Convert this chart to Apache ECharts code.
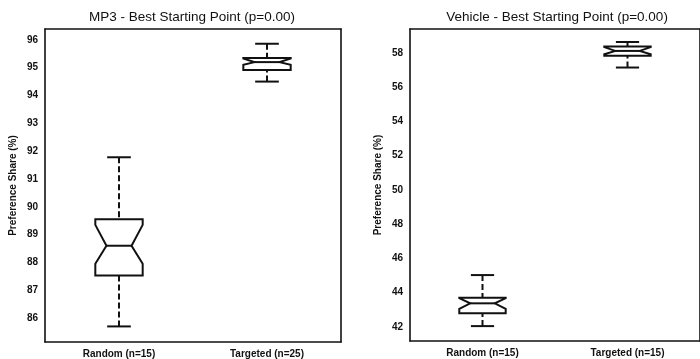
<!DOCTYPE html>
<html>
<head>
<meta charset="utf-8">
<script src="https://cdn.jsdelivr.net/npm/echarts@6/dist/echarts.min.js"></script>
<style>
  html, body { margin: 0; padding: 0; background: #ffffff; }
  #chart { width: 700px; height: 359px; }
</style>
</head>
<body>
<div id="chart"></div>
<script>
// ---- MP3 study ----
const mp3Title = 'MP3 - Best Starting Point (p=0.00)';
const mp3Categories = ['Random (n=15)', 'Targeted (n=25)'];
const mp3WhiskerLow = [85.70, 94.50];
const mp3Q1 = [87.53, 94.92];
const mp3Median = [88.60, 95.20];
const mp3Q3 = [89.55, 95.35];
const mp3WhiskerHigh = [91.78, 95.86];
const mp3NotchLow = [87.95, 95.10];
const mp3NotchHigh = [89.35, 95.33];
const mp3Ticks = [86, 87, 88, 89, 90, 91, 92, 93, 94, 95, 96];

// ---- Vehicle study ----
const vehicleTitle = 'Vehicle - Best Starting Point (p=0.00)';
const vehicleCategories = ['Random (n=15)', 'Targeted (n=15)'];
const vehicleWhiskerLow = [42.05, 57.15];
const vehicleQ1 = [42.80, 57.84];
const vehicleMedian = [43.38, 58.12];
const vehicleQ3 = [43.70, 58.38];
const vehicleWhiskerHigh = [45.03, 58.64];
const vehicleNotchLow = [43.05, 57.92];
const vehicleNotchHigh = [43.68, 58.34];
const vehicleTicks = [42, 44, 46, 48, 50, 52, 54, 56, 58];

const yName = 'Preference Share (%)';
const ink = '#111111';
const font = 'Liberation Sans, Arial, sans-serif';

function boxRows(lo, q1, med, q3, hi, nlo, nhi) {
  return lo.map((_, i) => [i, lo[i], q1[i], med[i], q3[i], hi[i], nlo[i], nhi[i]]);
}

// Notched box with dashed whiskers
function renderBox(params, api) {
  const i = api.value(0);
  const y = v => api.coord([i, v])[1];
  const cx = api.coord([i, api.value(3)])[0];
  const yWL = y(api.value(1)), yQ1 = y(api.value(2)), yMed = y(api.value(3));
  const yQ3 = y(api.value(4)), yWH = y(api.value(5));
  const yNL = y(api.value(6)), yNH = y(api.value(7));
  const band = api.size([1, 0])[0];
  const half = band * 0.16;
  const cap = band * 0.08;
  const inset = half * 0.47;
  const L = cx - half, R = cx + half;
  const outline = [
    [L, yQ1], [L, yNL], [L + inset, yMed], [L, yNH], [L, yQ3],
    [R, yQ3], [R, yNH], [R - inset, yMed], [R, yNL], [R, yQ1]
  ];
  const dashed = { stroke: ink, lineWidth: 2, lineDash: [6, 3] };
  const solid = { stroke: ink, lineWidth: 2 };
  return {
    type: 'group',
    children: [
      { type: 'line', shape: { x1: cx, y1: yWH, x2: cx, y2: yQ3 }, style: dashed },
      { type: 'line', shape: { x1: cx, y1: yWL, x2: cx, y2: yQ1 }, style: dashed },
      { type: 'line', shape: { x1: cx - cap, y1: yWH, x2: cx + cap, y2: yWH }, style: solid },
      { type: 'line', shape: { x1: cx - cap, y1: yWL, x2: cx + cap, y2: yWL }, style: solid },
      { type: 'polygon', shape: { points: outline }, style: { fill: '#ffffff', stroke: ink, lineWidth: 2, lineJoin: 'miter' } },
      { type: 'line', shape: { x1: L + inset, y1: yMed, x2: R - inset, y2: yMed }, style: solid }
    ]
  };
}

const axisLine = { show: true, lineStyle: { color: ink, width: 1.6 } };

function catAxes(gridIndex, cats) {
  return [
    {
      type: 'category', gridIndex, position: 'bottom', data: cats,
      axisLine, axisTick: { inside: true, length: 3, alignWithLabel: true, lineStyle: { color: ink } },
      axisLabel: { color: ink, fontFamily: font, fontWeight: 'bold', fontSize: 10, margin: 7 }
    },
    {
      type: 'category', gridIndex, position: 'top', data: cats,
      axisLine, axisTick: { inside: true, length: 3, alignWithLabel: true, lineStyle: { color: ink } },
      axisLabel: { show: false }
    }
  ];
}

function valAxes(gridIndex, min, max, ticks) {
  return [
    {
      type: 'value', gridIndex, position: 'left', min, max,
      axisLine, splitLine: { show: false },
      axisTick: { inside: true, length: 3, customValues: ticks, lineStyle: { color: ink } },
      axisLabel: { customValues: ticks, color: ink, fontFamily: font, fontWeight: 'bold', fontSize: 10, margin: 7 },
      name: yName, nameLocation: 'middle', nameGap: 27, nameRotate: 90,
      nameTextStyle: { color: ink, fontFamily: font, fontWeight: 'bold', fontSize: 10 }
    },
    {
      type: 'value', gridIndex, position: 'right', min, max,
      axisLine, splitLine: { show: false },
      axisTick: { inside: true, length: 3, customValues: ticks, lineStyle: { color: ink } },
      axisLabel: { show: false }
    }
  ];
}

const titleStyle = { color: ink, fontFamily: font, fontWeight: 'normal', fontSize: 13.5 };

const option = {
  backgroundColor: '#ffffff',
  animation: false,
  title: [
    { text: mp3Title, left: 192, top: 10, padding: 0, textAlign: 'center', textStyle: titleStyle },
    { text: vehicleTitle, left: 557, top: 10, padding: 0, textAlign: 'center', textStyle: titleStyle }
  ],
  grid: [
    { left: 45, top: 29, width: 296, height: 313 },
    { left: 410, top: 29, width: 297, height: 312 }
  ],
  xAxis: [...catAxes(0, mp3Categories), ...catAxes(1, vehicleCategories)],
  yAxis: [...valAxes(0, 85.14, 96.39, mp3Ticks), ...valAxes(1, 41.18, 59.40, vehicleTicks)],
  series: [
    {
      type: 'custom', xAxisIndex: 0, yAxisIndex: 0, silent: true,
      renderItem: renderBox,
      encode: { x: 0, y: [1, 2, 3, 4, 5] },
      data: boxRows(mp3WhiskerLow, mp3Q1, mp3Median, mp3Q3, mp3WhiskerHigh, mp3NotchLow, mp3NotchHigh)
    },
    {
      type: 'custom', xAxisIndex: 2, yAxisIndex: 2, silent: true,
      renderItem: renderBox,
      encode: { x: 0, y: [1, 2, 3, 4, 5] },
      data: boxRows(vehicleWhiskerLow, vehicleQ1, vehicleMedian, vehicleQ3, vehicleWhiskerHigh, vehicleNotchLow, vehicleNotchHigh)
    }
  ]
};

const chart = echarts.init(document.getElementById('chart'), null, { renderer: 'canvas' });
chart.setOption(option);
</script>
</body>
</html>
